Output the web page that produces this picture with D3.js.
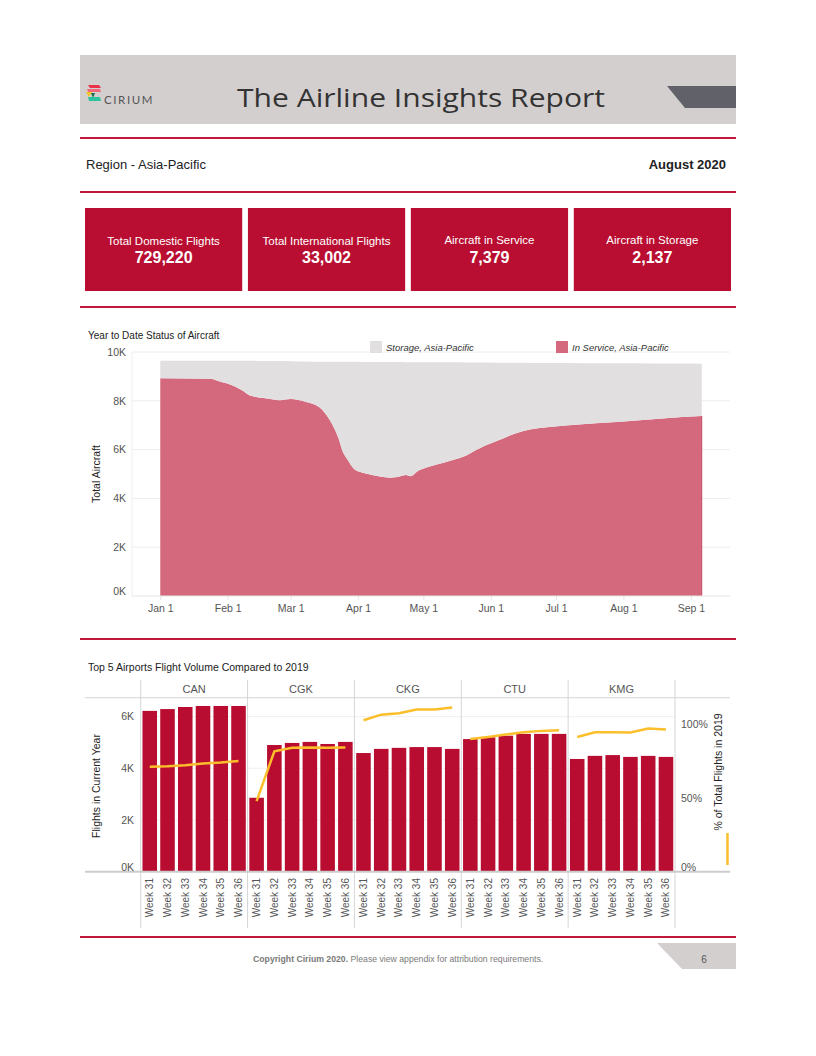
<!DOCTYPE html>
<html>
<head>
<meta charset="utf-8">
<script src="https://cdn.jsdelivr.net/npm/d3@7"></script>
<style>
  body { margin: 0; background: #fff; }
  text { font-family: "Liberation Sans", Arial, sans-serif; }
</style>
</head>
<body>
<svg id="page" width="816" height="1056"></svg>
<script>
// ---- data ----
var kpiLabels = ['Total Domestic Flights', 'Total International Flights', 'Aircraft in Service', 'Aircraft in Storage'];
var kpiValues = [729220, 33002, 7379, 2137];

var fleetDates = ['2020-01-01', '2020-01-24', '2020-01-28', '2020-02-03', '2020-02-08', '2020-02-11',
  '2020-02-19', '2020-02-25', '2020-03-01', '2020-03-08', '2020-03-14', '2020-03-19', '2020-03-23',
  '2020-03-25', '2020-03-27', '2020-03-30', '2020-04-02', '2020-04-06', '2020-04-16', '2020-04-20',
  '2020-04-23', '2020-04-25', '2020-04-29', '2020-05-04', '2020-05-13', '2020-05-21', '2020-05-25',
  '2020-05-27', '2020-06-04', '2020-06-13', '2020-06-19', '2020-06-28', '2020-07-13', '2020-07-29',
  '2020-08-13', '2020-08-28', '2020-09-06'];
var inService = [8920, 8900, 8800, 8640, 8410, 8230, 8090, 8020, 8070, 7950, 7750, 7200, 6450,
  5900, 5600, 5220, 5080, 4990, 4850, 4900, 4960, 4910, 5150, 5310, 5530, 5770, 5970,
  6060, 6360, 6680, 6820, 6930, 7040, 7130, 7230, 7340, 7379];
var storage = [720, 740, 840, 1000, 1230, 1410, 1540, 1610, 1550, 1660, 1850, 2400, 3150,
  3700, 4000, 4380, 4510, 4600, 4740, 4690, 4620, 4670, 4430, 4270, 4050, 3800, 3600,
  3510, 3200, 2880, 2730, 2620, 2500, 2410, 2300, 2190, 2137];
var fleetTicksK = [0, 2000, 4000, 6000, 8000, 10000];

var airports = ['CAN', 'CGK', 'CKG', 'CTU', 'KMG'];
var weeks = ['Week 31', 'Week 32', 'Week 33', 'Week 34', 'Week 35', 'Week 36'];
var flightsCurrent = [
  [6220, 6290, 6370, 6410, 6410, 6410],
  [2860, 4900, 4980, 5020, 4940, 5020],
  [4590, 4750, 4790, 4820, 4820, 4750],
  [5130, 5200, 5260, 5330, 5330, 5330],
  [4360, 4480, 4510, 4440, 4480, 4440]
];
var pctOf2019 = [
  [0.711, 0.715, 0.722, 0.733, 0.740, 0.750],
  [0.479, 0.817, 0.840, 0.842, 0.840, 0.842],
  [1.027, 1.065, 1.075, 1.100, 1.100, 1.113],
  [0.900, 0.914, 0.930, 0.946, 0.955, 0.960],
  [0.914, 0.946, 0.946, 0.944, 0.971, 0.964]
];
var flightTicks = [0, 2000, 4000, 6000];
var pctTicks = [0, 0.5, 1];

// ---- page frame ----
var svg = d3.select('#page');
var red = '#b90e31';
var rule = '#c2173d';

svg.append('rect').attr('x', 80).attr('y', 55).attr('width', 656).attr('height', 69).attr('fill', '#d3cfcf');
svg.append('path').attr('d', 'M667,86 L736,86 L736,108 L685,108 Z').attr('fill', '#616169');

// logo
var logo = svg.append('g');
logo.append('path').attr('d', 'M88,85 L99,85 L101,88 L90,88 Z').attr('fill', '#e8334a');
logo.append('path').attr('d', 'M87,89 L100,89 L101,92 L88,92 Z').attr('fill', '#f2687b');
logo.append('path').attr('d', 'M86,92 L92,92 L89,97 Z').attr('fill', '#f6c324');
logo.append('path').attr('d', 'M91,93 L95,93 L93,98 Z').attr('fill', '#1f6f48');
logo.append('path').attr('d', 'M88,97 L100,97 L101,101 L89,101 Z').attr('fill', '#2dc39e');
svg.append('text').attr('x', 104).attr('y', 104).text('CIRIUM')
  .style('font-family', 'Lato, sans-serif').style('font-size', '11.5px').style('letter-spacing', '1.6px')
  .attr('fill', '#555');

svg.append('text').attr('x', 237).attr('y', 107).text('The Airline Insights Report')
  .attr('textLength', 368).attr('lengthAdjust', 'spacingAndGlyphs')
  .style('font-family', '"Open Sans", sans-serif').style('font-weight', '400').style('font-size', '26px')
  .attr('fill', '#333');

[138, 192, 307, 639, 937].forEach(function (y) {
  svg.append('line').attr('x1', 80).attr('x2', 736).attr('y1', y).attr('y2', y)
    .attr('stroke', rule).attr('stroke-width', 2);
});

svg.append('text').attr('x', 86).attr('y', 169).text('Region - Asia-Pacific')
  .style('font-size', '13px').attr('fill', '#222');
svg.append('text').attr('x', 726).attr('y', 169).attr('text-anchor', 'end').text('August 2020')
  .style('font-size', '13px').style('font-weight', 'bold').attr('fill', '#222');

// KPI tiles
var kpiX = d3.scaleBand().domain(kpiLabels).range([85, 731]).paddingInner(0.035);
var tiles = svg.selectAll('g.kpi').data(kpiLabels).enter().append('g').attr('class', 'kpi')
  .attr('transform', function (d) { return 'translate(' + kpiX(d) + ',208)'; });
tiles.append('rect').attr('width', kpiX.bandwidth()).attr('height', 83).attr('fill', red);
tiles.append('text').attr('x', kpiX.bandwidth() / 2).attr('y', function (d, i) { return i < 2 ? 37 : 36; })
  .attr('text-anchor', 'middle')
  .text(function (d) { return d; }).style('font-size', '11.5px').attr('fill', '#fff');
tiles.append('text').attr('x', kpiX.bandwidth() / 2).attr('y', 55).attr('text-anchor', 'middle')
  .text(function (d, i) { return d3.format(',')(kpiValues[i]); })
  .style('font-size', '16px').style('font-weight', 'bold').attr('fill', '#fff');

// ---- year to date area chart ----
var parse = d3.timeParse('%Y-%m-%d');
var fleetRows = fleetDates.map(function (d, i) {
  return { date: parse(d), inService: inService[i], storage: storage[i] };
});
var x = d3.scaleTime().domain([parse('2019-12-19'), parse('2020-09-19')]).range([132, 730]);
var y = d3.scaleLinear().domain([0, 10000]).range([596, 352]);

svg.append('text').attr('x', 88).attr('y', 339).text('Year to Date Status of Aircraft')
  .style('font-size', '10px').attr('fill', '#222');

var gridA = svg.append('g');
gridA.selectAll('line').data(fleetTicksK.slice(1)).enter().append('line')
  .attr('x1', 132).attr('x2', 730).attr('y1', function (d) { return y(d); }).attr('y2', function (d) { return y(d); })
  .attr('stroke', '#eeeeee');
svg.append('line').attr('x1', 132).attr('x2', 132).attr('y1', 352).attr('y2', 596).attr('stroke', '#eeeeee');

var stack = d3.stack().keys(['inService', 'storage']);
var layers = stack(fleetRows);
var area = d3.area()
  .x(function (d) { return x(d.data.date); })
  .y0(function (d) { return y(d[0]); })
  .y1(function (d) { return y(d[1]); })
  .curve(d3.curveMonotoneX);
var fills = { inService: '#d4687c', storage: '#e1dfe0' };
svg.selectAll('path.layer').data(layers).enter().append('path').attr('class', 'layer')
  .attr('d', area).attr('fill', function (d) { return fills[d.key]; });
// darker right edge of in-service area
var last = fleetRows[fleetRows.length - 1];
svg.append('line').attr('x1', x(last.date)).attr('x2', x(last.date))
  .attr('y1', y(0)).attr('y2', y(last.inService)).attr('stroke', '#c94b63').attr('stroke-width', 1);

svg.append('line').attr('x1', 132).attr('x2', 730).attr('y1', 596).attr('y2', 596).attr('stroke', '#e6e6e6');

var yAxisA = svg.append('g').attr('transform', 'translate(132,0)')
  .call(d3.axisLeft(y).tickValues(fleetTicksK).tickSize(0).tickPadding(6)
    .tickFormat(function (d) { return d / 1000 + 'K'; }));
yAxisA.select('.domain').remove();
yAxisA.selectAll('text').style('font-size', '10.5px').attr('fill', '#555')
  .attr('dy', function (d) { return d === 0 ? '-0.1em' : '0.32em'; });

var xAxisA = svg.append('g').attr('transform', 'translate(0,596)')
  .call(d3.axisBottom(x).ticks(d3.timeMonth.every(1)).tickSize(4).tickPadding(5)
    .tickFormat(d3.timeFormat('%b %-d')));
xAxisA.select('.domain').remove();
xAxisA.selectAll('line').attr('stroke', '#e6e6e6');
xAxisA.selectAll('text').style('font-size', '10.5px').attr('fill', '#555');

svg.append('text').attr('transform', 'translate(100,474) rotate(-90)').attr('text-anchor', 'middle')
  .text('Total Aircraft').style('font-size', '10.5px').attr('fill', '#222');

// legend
var legend = [{ key: 'storage', label: 'Storage, Asia-Pacific', x: 370 }, { key: 'inService', label: 'In Service, Asia-Pacific', x: 556 }];
var lg = svg.selectAll('g.lg').data(legend).enter().append('g').attr('class', 'lg')
  .attr('transform', function (d) { return 'translate(' + d.x + ',341)'; });
lg.append('rect').attr('width', 12).attr('height', 12).attr('fill', function (d) { return fills[d.key]; });
lg.append('text').attr('x', 16).attr('y', 9.5).text(function (d) { return d.label; })
  .style('font-size', '9.5px').style('font-style', 'italic').attr('fill', '#333');

// ---- top 5 airports panel chart ----
svg.append('text').attr('x', 88).attr('y', 671).text('Top 5 Airports Flight Volume Compared to 2019')
  .style('font-size', '10.5px').attr('fill', '#222');

var plotTop = 697.7, plotBase = 871.7;
var x0 = d3.scaleBand().domain(airports).range([140.7, 675]);
var x1 = d3.scaleBand().domain(weeks).range([0, x0.bandwidth()]).paddingInner(0.18).paddingOuter(0.1);
var yL = d3.scaleLinear().domain([0, 6730]).range([plotBase, plotTop]);
var yR = d3.scaleLinear().domain([0, 1.18]).range([plotBase, plotTop]);

svg.append('g').selectAll('line').data(flightTicks.slice(1)).enter().append('line')
  .attr('x1', 140.7).attr('x2', 675).attr('y1', function (d) { return yL(d); }).attr('y2', function (d) { return yL(d); })
  .attr('stroke', '#f0f0f0');

svg.append('line').attr('x1', 85).attr('x2', 730).attr('y1', plotTop).attr('y2', plotTop).attr('stroke', '#d6d6d6');
var seps = airports.map(function (a) { return x0(a); }).concat([675]);
svg.selectAll('line.sep').data(seps).enter().append('line').attr('class', 'sep')
  .attr('x1', function (d) { return d; }).attr('x2', function (d) { return d; })
  .attr('y1', 680).attr('y2', 928).attr('stroke', '#d6d6d6');

svg.selectAll('text.ap').data(airports).enter().append('text').attr('class', 'ap')
  .attr('x', function (d) { return x0(d) + x0.bandwidth() / 2; }).attr('y', 693)
  .attr('text-anchor', 'middle').text(function (d) { return d; })
  .style('font-size', '11px').attr('fill', '#555');

var panels = svg.selectAll('g.panel').data(airports).enter().append('g').attr('class', 'panel')
  .attr('transform', function (d) { return 'translate(' + x0(d) + ',0)'; });

panels.selectAll('rect').data(function (d, i) {
  return flightsCurrent[i].map(function (v, j) { return { week: weeks[j], value: v }; });
}).enter().append('rect')
  .attr('x', function (d) { return x1(d.week); }).attr('width', x1.bandwidth())
  .attr('y', function (d) { return yL(d.value); }).attr('height', function (d) { return plotBase - yL(d.value); })
  .attr('fill', '#b80d30');

var pctLine = d3.line()
  .x(function (d) { return x1(d.week) + x1.bandwidth() / 2; })
  .y(function (d) { return yR(d.value); });
panels.append('path').datum(function (d, i) {
  return pctOf2019[i].map(function (v, j) { return { week: weeks[j], value: v }; });
}).attr('d', pctLine).attr('fill', 'none').attr('stroke', '#fcbf2b').attr('stroke-width', 2.5);

panels.selectAll('text.wk').data(weeks).enter().append('text').attr('class', 'wk')
  .attr('transform', function (d) { return 'translate(' + (x1(d) + x1.bandwidth() / 2 + 3.5) + ',878) rotate(-90)'; })
  .attr('text-anchor', 'end').text(function (d) { return d; })
  .style('font-size', '10px').attr('fill', '#555');

svg.append('line').attr('x1', 85).attr('x2', 730).attr('y1', plotBase).attr('y2', plotBase)
  .attr('stroke', '#cccccc').attr('stroke-width', 2);

var yAxisL = svg.append('g').attr('transform', 'translate(136,0)')
  .call(d3.axisLeft(yL).tickValues(flightTicks).tickSize(0).tickPadding(2)
    .tickFormat(function (d) { return d / 1000 + 'K'; }));
yAxisL.select('.domain').remove();
yAxisL.selectAll('text').style('font-size', '10.5px').attr('fill', '#555')
  .attr('dy', function (d) { return d === 0 ? '-0.1em' : '0.32em'; });

var yAxisR = svg.append('g').attr('transform', 'translate(679,0)')
  .call(d3.axisRight(yR).tickValues(pctTicks).tickSize(0).tickPadding(2).tickFormat(d3.format('.0%')));
yAxisR.select('.domain').remove();
yAxisR.selectAll('text').style('font-size', '10.5px').attr('fill', '#555')
  .attr('dy', function (d) { return d === 0 ? '-0.1em' : '0.32em'; });

svg.append('text').attr('transform', 'translate(100,786) rotate(-90)').attr('text-anchor', 'middle')
  .text('Flights in Current Year').style('font-size', '10.5px').attr('fill', '#222');
svg.append('text').attr('transform', 'translate(722,772) rotate(-90)').attr('text-anchor', 'middle')
  .text('% of Total Flights in 2019').style('font-size', '10.5px').attr('fill', '#222');
svg.append('line').attr('x1', 727.5).attr('x2', 727.5).attr('y1', 833).attr('y2', 865)
  .attr('stroke', '#fcbf2b').attr('stroke-width', 2.5);

// ---- footer ----
var foot = svg.append('text').attr('x', 253).attr('y', 962).style('font-size', '8.7px').attr('fill', '#7a7a7a');
foot.append('tspan').text('Copyright Cirium 2020.').style('font-weight', 'bold');
foot.append('tspan').text(' Please view appendix for attribution requirements.');
svg.append('path').attr('d', 'M657,943 L736,943 L736,969 L682,969 Z').attr('fill', '#d3cfcf');
svg.append('text').attr('x', 704).attr('y', 963).attr('text-anchor', 'middle').text('6')
  .style('font-size', '10px').attr('fill', '#555');
</script>
</body>
</html>
